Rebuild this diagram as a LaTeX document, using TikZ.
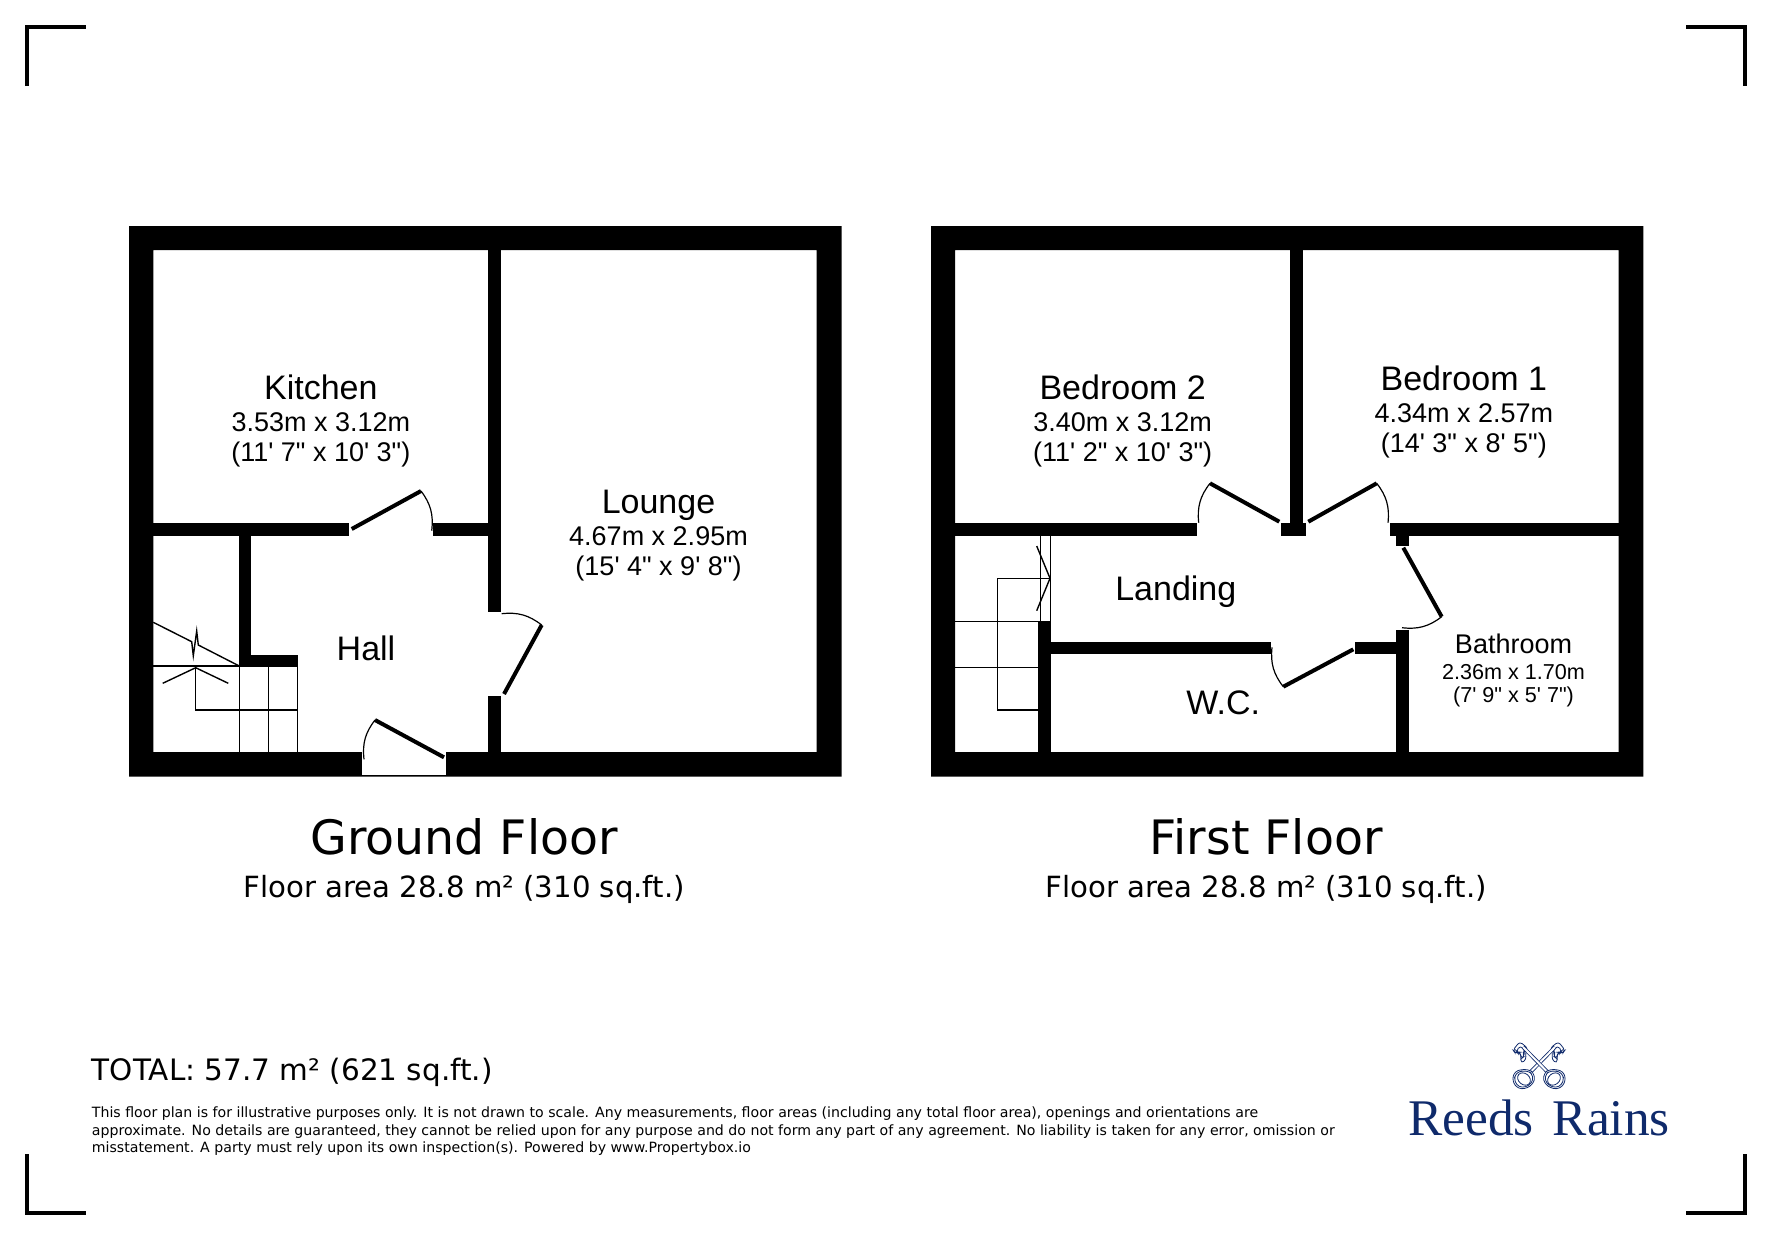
\documentclass[tikz,border=0pt]{standalone}
\usepackage{fontspec}
\newfontfamily\roomfont{Liberation Sans}
\newfontfamily\planfont{DejaVu Sans}
\newfontfamily\logofont{Liberation Serif}
\definecolor{logoblue}{HTML}{0F2A6B}
\newcommand{\bowoutline}{(-9,5) -- (-5.7,7.7) -- (-4,15) -- (-9,21.7) -- (-17.3,24.3) -- (-24,21) -- (-26.7,13.3) -- (-24,6.7) -- (-17.3,4.3) -- cycle}
\newcommand{\bitoutline}{(11,-16.7) -- (19.3,-23.3) -- (26,-15) -- (23.7,-11.7) -- (18.7,-12.7) -- (17.7,-1.7) -- (12.7,-5.7) -- (13.7,-12.3) -- cycle}
\tikzstyle{wall} = [fill=black]
\tikzstyle{leaf} = [draw, line width=2pt]
\tikzstyle{swing} = [draw, line width=0.6pt]
\tikzstyle{stair} = [draw, line width=0.7pt]
\tikzstyle{corner} = [draw, line width=1.7pt]
\tikzstyle{roomname} = [inner sep=0pt, font=\roomfont\fontsize{17}{20}\selectfont]
\tikzstyle{roomsize} = [inner sep=0pt, font=\roomfont\fontsize{13.5}{16}\selectfont]
\tikzstyle{bathname} = [inner sep=0pt, font=\roomfont\fontsize{13.5}{16}\selectfont]
\tikzstyle{bathsize} = [inner sep=0pt, font=\roomfont\fontsize{10.8}{13}\selectfont]
\tikzstyle{floorname} = [inner sep=0pt, font=\planfont\fontsize{23.7}{28}\selectfont]
\tikzstyle{floorarea} = [inner sep=0pt, font=\planfont\fontsize{14.6}{17}\selectfont]
\tikzstyle{logoline} = [draw=logoblue, line width=0.4pt, fill=white, rounded corners=1.5pt]
\begin{document}
\begin{tikzpicture}[x=0.5pt, y=-0.5pt]
    \useasboundingbox (0,0) rectangle (1771,1239);
    % crop marks
    \draw [corner] (27,86) -- (27,27) -- (86,27);
    \draw [corner] (1686,27) -- (1745,27) -- (1745,86);
    \draw [corner] (27,1154) -- (27,1213) -- (86,1213);
    \draw [corner] (1686,1213) -- (1745,1213) -- (1745,1154);
    % ground floor walls
    \fill [wall, even odd rule] (129,226) rectangle (841.5,776.7) (153.3,250) rectangle (816.6,752);
    \fill [wall] (153,523.3) rectangle (349.3,536);
    \fill [wall] (433.3,523.3) rectangle (490,536);
    \fill [wall] (488.3,250) rectangle (501,611.7);
    \fill [wall] (488.3,696) rectangle (501,752);
    \fill [wall] (238.7,536) rectangle (250.7,667);
    \fill [wall] (238.7,655) rectangle (298.3,667);
    \fill [white] (361.7,751) rectangle (446,775.2);
    % ground floor stairs
    \draw [stair] (153,666) -- (239,666);
    \draw [stair] (153.3,622.3) -- (191.7,641.7) -- (193.3,655.7) -- (196.7,631) -- (198.3,645) -- (238.7,665.7);
    \draw [stair] (162.7,683.3) -- (195.7,667.7) -- (228.3,683.3);
    \draw [stair] (195.7,667.7) -- (195.7,710) -- (298,710);
    \foreach \stepx in {239.3,268.3,297.7}
        \draw [stair] (\stepx,667) -- (\stepx,752);
    % first floor walls
    \fill [wall, even odd rule] (931,226) rectangle (1643.4,776.7) (955,250) rectangle (1618.6,752);
    \fill [wall] (955,523.3) rectangle (1196.7,536);
    \fill [wall] (1281,523.3) rectangle (1306,536);
    \fill [wall] (1290,250) rectangle (1302.7,530);
    \fill [wall] (1390,523.3) rectangle (1619,536);
    \fill [wall] (1396,530) rectangle (1409.3,546);
    \fill [wall] (1396,630) rectangle (1409.3,752);
    \fill [wall] (1038.3,621) rectangle (1050.7,752);
    \fill [wall] (1045,642) rectangle (1270.7,654.3);
    \fill [wall] (1355,642) rectangle (1400,654.3);
    % first floor stairs
    \draw [stair] (1040.3,536) -- (1040.3,621.7);
    \draw [stair] (1050.7,536) -- (1050.7,621.7);
    \draw [stair] (955,621.7) -- (1040.3,621.7);
    \draw [stair] (955,667.3) -- (1038.3,667.3);
    \draw [stair] (1050.7,578.3) -- (997.3,578.3) -- (997.3,710) -- (1038.3,710);
    \draw [stair] (1036.7,546) -- (1050,578.3) -- (1036.7,610.7);
    % doors: hinge, tip, end of swing, bend
    \foreach \hx/\hy/\tx/\ty/\ex/\ey/\bendang in {
        444/757.3/375/720/364/759.3/-22,
        504/694/541.7/625/501.7/613.7/-22,
        351.7/529/421/491/431.7/530.7/22,
        1279.3/521.7/1210/483.3/1198.7/522.7/-22,
        1308.3/521.7/1376.7/483.3/1388/522.7/22,
        1403.3/547.7/1441.7/616.7/1402/627.7/22,
        1353.3/649.3/1283.3/686.7/1272/647.3/22} {
        \draw [leaf] (\hx,\hy) -- (\tx,\ty);
        \draw [swing] (\tx,\ty) to [bend left=\bendang] (\ex,\ey);
    }
    % room labels
    \node [roomname] (kitchen) at (320.8,387) {Kitchen};
    \node [roomsize, below of=kitchen, node distance=17.7pt] (kitchenm) {3.53m x 3.12m};
    \node [roomsize, below of=kitchenm, node distance=15.8pt] (kitchenft) {(11' 7" x 10' 3")};
    \node [roomname] (lounge) at (658.5,505) {Lounge};
    \node [roomsize, below of=lounge, node distance=15.8pt] (loungem) {4.67m x 2.95m};
    \node [roomsize, below of=loungem, node distance=15.8pt] (loungeft) {(15' 4" x 9' 8")};
    \node [roomname] (hall) at (366,648.3) {Hall};
    \node [roomname] (bedtwo) at (1122.7,387.4) {Bedroom 2};
    \node [roomsize, below of=bedtwo, node distance=17.5pt] (bedtwom) {3.40m x 3.12m};
    \node [roomsize, below of=bedtwom, node distance=15.8pt] (bedtwoft) {(11' 2" x 10' 3")};
    \node [roomname] (bedone) at (1463.8,378.4) {Bedroom 1};
    \node [roomsize, below of=bedone, node distance=17.5pt] (bedonem) {4.34m x 2.57m};
    \node [roomsize, below of=bedonem, node distance=15.8pt] (bedoneft) {(14' 3" x 8' 5")};
    \node [roomname] (landing) at (1175.8,592) {Landing};
    \node [roomname] (wc) at (1223.2,702.5) {W.C.};
    \node [bathname] (bathroom) at (1513.5,643.8) {Bathroom};
    \node [bathsize, below of=bathroom, node distance=14.1pt] (bathroomm) {2.36m x 1.70m};
    \node [bathsize, below of=bathroomm, node distance=12.5pt] (bathroomft) {(7' 9" x 5' 7")};
    % floor titles
    \node [floorname] (ground) at (464.2,837) {Ground Floor};
    \node [floorarea, below of=ground, node distance=26.1pt] (groundarea) {Floor area 28.8 m² (310 sq.ft.)};
    \node [floorname] (first) at (1266.2,837) {First Floor};
    \node [floorarea, below of=first, node distance=26.1pt] (firstarea) {Floor area 28.8 m² (310 sq.ft.)};
    \node [floorarea, anchor=west, font=\planfont\fontsize{14.75}{17}\selectfont] (total) at (91.5,1072) {TOTAL: 57.7 m² (621 sq.ft.)};
    \node [inner sep=0pt, anchor=north west, align=left, font=\planfont\fontsize{7.07}{8.75}\selectfont] (disclaimer) at (91.5,1106.5) {This floor plan is for illustrative purposes only. It is not drawn to scale. Any measurements, floor areas (including any total floor area), openings and orientations are\\approximate. No details are guaranteed, they cannot be relied upon for any purpose and do not form any part of any agreement. No liability is taken for any error, omission or\\misstatement. A party must rely upon its own inspection(s). Powered by www.Propertybox.io};
    % logo
    \foreach \keyside in {1,-1} {
        \begin{scope}[shift={(1539,1065)}, xscale=\keyside]
            \draw [logoline] \bitoutline;
            \draw [logoline, scale around={0.6:(18,-13)}] \bitoutline;
            \draw [draw=logoblue, line width=0.4pt, double=white, double distance=1pt] (-8,6.5) -- (16,-18);
            \draw [logoline] \bowoutline;
            \draw [logoline, scale around={0.84:(-15,14)}] \bowoutline;
            \draw [draw=logoblue, line width=0.4pt, rotate around={-40:(-15,14)}] (-15,14) ellipse (7 and 5.5);
        \end{scope}
    }
    \node [inner sep=0pt, anchor=base, text=logoblue, font=\logofont\fontsize{25.7}{30}\selectfont] (logotext) at (1539,1135.7) {Reeds\hspace{9.6pt}Rains};
\end{tikzpicture}
\end{document}
